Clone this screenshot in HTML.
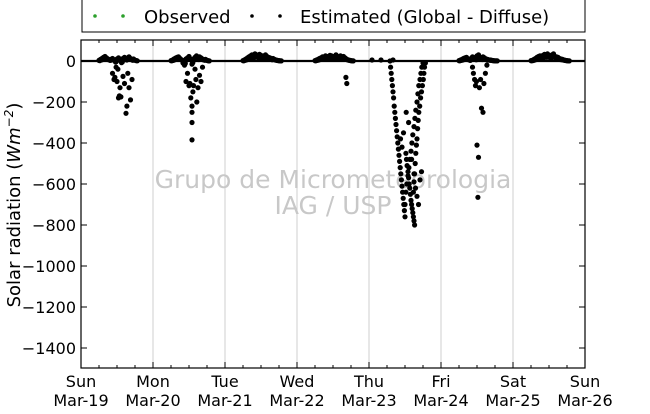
<!DOCTYPE html>
<html><head><meta charset="utf-8"><style>
body{margin:0;background:#fff;}
svg text{font-family:"DejaVu Sans","Liberation Sans",sans-serif;}
</style></head><body>
<svg width="650" height="409" xmlns="http://www.w3.org/2000/svg">
<g id="grid"></g>
<text x="333" y="188" font-size="25" fill="#c8c8c8" text-anchor="middle">Grupo de Micrometeorologia</text>
<text x="333" y="214" font-size="25" fill="#c8c8c8" text-anchor="middle">IAG / USP</text>
<g id="marks"></g>
<g id="axes"></g>
<text transform="translate(20,205) rotate(-90)" font-size="18" text-anchor="middle">Solar radiation (<tspan font-style="italic">Wm</tspan><tspan font-size="12" dy="-7" font-style="italic">−2</tspan><tspan dy="7">)</tspan></text>
<g>
<rect x="82" y="-2" width="503" height="34" fill="#fff" stroke="#000" stroke-width="1"/>
<circle cx="95" cy="16" r="1.8" fill="#2ca02c"/><circle cx="123" cy="16" r="1.8" fill="#2ca02c"/>
<text x="144" y="23" font-size="18">Observed</text>
<circle cx="252" cy="16" r="1.8" fill="#000"/><circle cx="280" cy="16" r="1.8" fill="#000"/>
<text x="300" y="23" font-size="18">Estimated (Global - Diffuse)</text>
</g>
</svg>
<script>
const dayLabels=["Sun","Mon","Tue","Wed","Thu","Fri","Sat","Sun"];
const dateLabels=["Mar-19","Mar-20","Mar-21","Mar-22","Mar-23","Mar-24","Mar-25","Mar-26"];
const yTicks=[0,-200,-400,-600,-800,-1000,-1200,-1400];
// hours since Sun Mar-19 00:00
const baseHours=[6,6.5,7,7.5,8,8.5,9,9.5,10,10.5,11,11.5,12,12.5,13,13.5,14,14.5,15,15.5,16,16.5,17,17.5,18,18.5];
const day0Base=[3,8,12,18,22,15,10,5,8,12,6,-5,10,15,5,-8,12,18,8,14,20,12,6,10,4,2];
const day1Base=[2,5,10,14,18,20,12,6,-10,-20,10,15,22,8,-15,10,18,25,12,20,15,10,6,8,3,1];
const day2Base=[2,6,10,15,20,25,30,28,35,30,25,32,28,20,25,30,22,18,15,10,12,8,5,3,2,1];
const day3Base=[2,5,8,12,15,20,18,25,22,20,28,25,18,22,30,20,15,25,18,22,15,10,6,4,2,1];
const day5Base=[2,5,8,12,15,18,10,5,12,20,15,10,25,30,18,12,20,15,10,8,6,5,3,2,1,1];
const day6Base=[2,4,8,12,18,22,25,20,28,32,30,35,28,25,30,35,22,20,18,12,10,8,5,3,2,1];
const dipHours=[10.5,11,11.3,11.7,12,12.3,12.5,12.8,13,13.3,14,14.5,15,15.3,15.6,16,16.5,17,
  35,35.5,36,36.3,36.6,37,37,37,37,37.3,37.5,38,38.3,38.6,39,39.5,40,40.5,
  88.3,88.6,
  103,103.2,103.4,103.6,103.8,104,104.2,104.4,104.6,104.8,105,105.2,105.4,105.6,105.8,106,106.2,106.4,106.6,106.8,107,107.2,107.4,107.6,107.8,108,
  108.3,108.5,108.7,109,109.2,109.4,109.6,109.8,110,110.2,110.4,110.6,110.8,111,111.2,
  108,108.3,108.6,109,109.3,109.6,110,110.3,110.6,111,111.3,111.6,112,112.3,112.6,113,113.3,113.6,114,
  106.5,107,107.5,108.4,109.2,110.2,
  110.8,111,111.2,111.4,111.6,111.8,112,112.2,112.4,112.6,112.9,113.2,113.5,113.8,114.1,114.3,114.5,114.8,
  111,111.5,112,112.5,113,113.5,
  130.5,130.8,131.2,131.5,131.8,132,132.3,132.5,132.8,133.2,133.5,134,134.3,134.8,135.3];
const dipValues=[-60,-90,-80,-30,-100,-40,-180,-170,-130,-175,-75,-110,-255,-220,-60,-130,-190,-90,
  -100,-60,-120,-110,-180,-300,-385,-220,-250,-150,-120,-40,-90,-200,-130,-70,-100,-30,
  -80,-110,
  0,-30,-60,-90,-120,-150,-180,-220,-250,-280,-310,-340,-370,-400,-430,-460,-490,-520,-550,-580,-610,-640,-670,-700,-730,-760,
  -450,-480,-510,-540,-570,-600,-620,-650,-680,-700,-720,-740,-760,-780,-800,
  -700,-640,-600,-560,-520,-480,-440,-400,-360,-320,-280,-240,-200,-160,-120,-90,-60,-30,-10,
  -380,-420,-350,-250,-300,-480,
  -640,-590,-550,-500,-450,-410,-380,-330,-290,-250,-220,-180,-150,-120,-90,-60,-30,-10,
  -550,-620,-660,-700,-580,-540,
  -30,-60,-90,-120,-100,-410,-665,-470,-130,-90,-230,-250,-110,-60,-20];
const xScale=h=>81+h*(504/168);
const yScale=v=>61-v*(41/200);
const NS="http://www.w3.org/2000/svg";
function el(tag,attrs,parent){const e=document.createElementNS(NS,tag);for(const k in attrs)e.setAttribute(k,attrs[k]);parent.appendChild(e);return e;}
const grid=document.getElementById('grid'),marks=document.getElementById('marks'),axes=document.getElementById('axes');
for(let d=1;d<7;d++){const l=el('line',{x1:xScale(d*24),x2:xScale(d*24),y1:40,y2:368,stroke:'#cfcfcf','stroke-width':1},grid);

}
function dot(h,v){const c=el('circle',{cx:xScale(h).toFixed(1),cy:yScale(v).toFixed(1),r:2.6,fill:'#000'},marks);

}
[[0,day0Base],[24,day1Base],[48,day2Base],[72,day3Base],[120,day5Base],[144,day6Base]].forEach(([o,arr])=>{
 arr.forEach((v,i)=>{dot(o+baseHours[i],v);dot(o+baseHours[i]+0.25,v*0.6);});});
[97,100,104].forEach(h=>dot(h,5));
dipHours.forEach((h,i)=>dot(h,dipValues[i]));
const zl=el('line',{x1:81,x2:585,y1:yScale(0),y2:yScale(0),stroke:'#000','stroke-width':2.2},axes);


const frame=el('rect',{x:81,y:40,width:504,height:328,fill:'none',stroke:'#000','stroke-width':1.2},axes);


for(let h=6;h<168;h+=6){const len=(h%24===0)?0:3;
 if(len){el('line',{x1:xScale(h),x2:xScale(h),y1:40,y2:40+len,stroke:'#000'},axes);el('line',{x1:xScale(h),x2:xScale(h),y1:368,y2:368-len,stroke:'#000'},axes);}}
for(let d=0;d<8;d++){const x=xScale(d*24);
 el('line',{x1:x,x2:x,y1:40,y2:46,stroke:'#000'},axes);el('line',{x1:x,x2:x,y1:368,y2:362,stroke:'#000'},axes);
 const t1=el('text',{x:x,y:387,'font-size':16,'text-anchor':'middle'},axes);t1.textContent=dayLabels[d];
 
 
 const t2=el('text',{x:x,y:406,'font-size':16,'text-anchor':'middle'},axes);t2.textContent=dateLabels[d];
 
 }
yTicks.forEach(v=>{const y=yScale(v);
 el('line',{x1:81,x2:87,y1:y,y2:y,stroke:'#000'},axes);el('line',{x1:585,x2:579,y1:y,y2:y,stroke:'#000'},axes);
 const t=el('text',{x:76,y:y+6,'font-size':16,'text-anchor':'end'},axes);t.textContent=v===0?'0':'−'+Math.abs(v);
 
 });
</script>
</body></html>
